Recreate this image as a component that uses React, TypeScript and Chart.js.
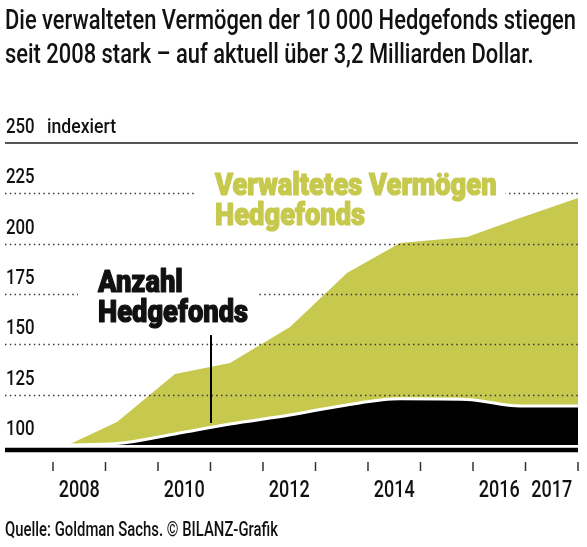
import React, { useEffect, useRef } from "react";
import { Chart, registerables } from "chart.js";

Chart.register(...registerables);

const FONT = "Roboto, 'Liberation Sans', sans-serif";
const GREEN = "#c6c94d";
const INK = "#111111";

const TITLE_LINES = [
  "Die verwalteten Vermögen der 10 000 Hedgefonds stiegen",
  "seit 2008 stark – auf aktuell über 3,2 Milliarden Dollar.",
];
const SOURCE = "Quelle: Goldman Sachs. © BILANZ-Grafik";

// x positions of the data points (year units)
const X_POS = [2007.786, 2008.719, 2009.824, 2010.871, 2012.014, 2013.1, 2014.11, 2015.386, 2016.395, 2017.5];
// Verwaltetes Vermögen Hedgefonds (indexiert)
const AUM = [100, 111.4, 135.3, 140.7, 158.6, 185.4, 200.3, 203.3, 212.8, 222.7];
// Anzahl Hedgefonds (indexiert)
const FUNDS = [100, 100.7, 105.5, 110.4, 114.9, 119.9, 122.9, 122.6, 119.4, 119.4];

const X_MIN = 2006.586;
const X_MAX = 2017.5;
const Y_MIN = 98;
const Y_MAX = 250;
const Y_BASE = 100;

const Y_LABELS = [100, 125, 150, 175, 200, 225, 250];
const Y_DOTTED = [125, 150, 175, 200, 225];
const Y_SOLID = [250];
const Y_UNIT = "indexiert";

const X_TICK_MARKS = [2007.5, 2008.5, 2009.5, 2010.5, 2011.5, 2012.5, 2013.5, 2014.5, 2015.5, 2016.5, 2017.5];
const X_LABEL_POS = [2008, 2010, 2012, 2014, 2016, 2017];
const X_LABELS = ["2008", "2010", "2012", "2014", "2016", "2017"];

const ANNOTATIONS = [
  { lines: ["Verwaltetes Vermögen", "Hedgefonds"], x: 2010.586, y: 224.2, color: GREEN },
  { lines: ["Anzahl", "Hedgefonds"], x: 2008.357, y: 176.0, color: INK },
];
const POINTER = { x: 2010.51, y1: 154.6, y2: 110.9 };

function measure(text: string, font: string): number {
  const c = document.createElement("canvas").getContext("2d")!;
  c.font = font;
  return c.measureText(text).width;
}

function drawScaled(
  ctx: CanvasRenderingContext2D,
  text: string,
  x: number,
  y: number,
  font: string,
  color: string,
  sx: number,
  align: CanvasTextAlign,
  stroke = 0
) {
  ctx.save();
  ctx.font = font;
  ctx.fillStyle = color;
  ctx.textBaseline = "alphabetic";
  ctx.textAlign = align;
  ctx.translate(x, y);
  ctx.scale(sx, 1);
  ctx.fillText(text, 0, 0);
  if (stroke > 0) {
    ctx.strokeStyle = color;
    ctx.lineWidth = stroke;
    ctx.lineJoin = "round";
    ctx.strokeText(text, 0, 0);
  }
  ctx.restore();
}

const overlay = {
  id: "overlay",
  afterDatasetsDraw(chart: any) {
    const { ctx, chartArea: a } = chart;
    const xs = chart.scales.x;
    const ys = chart.scales.y;
    ctx.save();

    // dotted grid lines (drawn above the areas)
    ctx.strokeStyle = "#3a3a3a";
    ctx.lineWidth = 1.5;
    ctx.setLineDash([1.5, 3.3]);
    for (const v of Y_DOTTED) {
      const py = Math.round(ys.getPixelForValue(v)) + 0.5;
      ctx.beginPath();
      ctx.moveTo(a.left, py);
      ctx.lineTo(a.right, py);
      ctx.stroke();
    }
    ctx.setLineDash([]);

    // solid top line
    ctx.strokeStyle = "#555";
    ctx.lineWidth = 2;
    for (const v of Y_SOLID) {
      const py = ys.getPixelForValue(v);
      ctx.beginPath();
      ctx.moveTo(a.left, py);
      ctx.lineTo(a.right, py);
      ctx.stroke();
    }

    // base line
    ctx.strokeStyle = "#000";
    ctx.lineWidth = 4.5;
    ctx.beginPath();
    ctx.moveTo(a.left, a.bottom + 1);
    ctx.lineTo(a.right, a.bottom + 1);
    ctx.stroke();

    // x tick marks
    ctx.strokeStyle = "#333";
    ctx.lineWidth = 1.5;
    for (const v of X_TICK_MARKS) {
      const px = xs.getPixelForValue(v);
      ctx.beginPath();
      ctx.moveTo(px, a.bottom + 13);
      ctx.lineTo(px, a.bottom + 22);
      ctx.stroke();
    }

    // pointer line
    ctx.strokeStyle = "#000";
    ctx.lineWidth = 2;
    const ppx = xs.getPixelForValue(POINTER.x);
    ctx.beginPath();
    ctx.moveTo(ppx, ys.getPixelForValue(POINTER.y1));
    ctx.lineTo(ppx, ys.getPixelForValue(POINTER.y2));
    ctx.stroke();

    // annotations
    const annFont = `900 31px ${FONT}`;
    const annSx = 150 / measure("Hedgefonds", annFont);
    for (const an of ANNOTATIONS) {
      const ax = xs.getPixelForValue(an.x);
      const ay = ys.getPixelForValue(an.y);
      const widths = an.lines.map((l) => measure(l, annFont) * annSx);
      const maxW = Math.max(...widths);
      ctx.fillStyle = "#fff";
      ctx.fillRect(ax - 20, ay - 28, maxW + 29, 34);
      an.lines.forEach((l, i) => {
        drawScaled(ctx, l, ax, ay + i * 30, annFont, an.color, annSx, "left", 1.2);
      });
    }

    // y labels
    const yFont = `500 21px ${FONT}`;
    for (const v of Y_LABELS) {
      const py = ys.getPixelForValue(v);
      drawScaled(ctx, String(v), a.left + 1, py - 10, yFont, INK, 0.8, "left");
      if (v === Y_MAX) {
        drawScaled(ctx, Y_UNIT, a.left + 42, py - 10, yFont, INK, 0.84, "left");
      }
    }

    // x labels
    const xFont = `500 24px ${FONT}`;
    const xSx = 41 / measure("2008", xFont);
    X_LABELS.forEach((lab, i) => {
      const px = xs.getPixelForValue(X_LABEL_POS[i]);
      drawScaled(ctx, lab, px, a.bottom + 48, xFont, INK, xSx, "center");
    });

    ctx.restore();
  },
};

export default function App() {
  const ref = useRef<HTMLCanvasElement>(null);

  useEffect(() => {
    const canvas = ref.current!;
    const chart = new Chart(canvas, {
      type: "line",
      data: {
        datasets: [
          {
            label: "Anzahl Hedgefonds",
            data: X_POS.map((x, i) => ({ x, y: FUNDS[i] })),
            backgroundColor: "#000",
            borderColor: "#fff",
            borderWidth: 3,
            pointRadius: 0,
            cubicInterpolationMode: "monotone",
            fill: { value: Y_BASE },
            order: 0,
          },
          {
            label: "Verwaltetes Vermögen Hedgefonds",
            data: X_POS.map((x, i) => ({ x, y: AUM[i] })),
            backgroundColor: GREEN,
            borderColor: GREEN,
            borderWidth: 0,
            pointRadius: 0,
            tension: 0,
            fill: { value: Y_BASE },
            order: 1,
          },
        ],
      },
      options: {
        animation: false,
        responsive: false,
        devicePixelRatio: window.devicePixelRatio || 1,
        layout: { padding: { left: 5, right: 9, top: 143, bottom: 98 } },
        scales: {
          x: { type: "linear", min: X_MIN, max: X_MAX, display: false },
          y: { type: "linear", min: Y_MIN, max: Y_MAX, display: false },
        },
        plugins: {
          legend: { display: false },
          tooltip: { enabled: false },
        },
      },
      plugins: [overlay],
    } as any);
    return () => chart.destroy();
  }, []);

  const titleFont = `500 28px ${FONT}`;
  const titleSx = 571 / measure(TITLE_LINES[0], titleFont);
  const srcFont = `500 20px ${FONT}`;
  const srcSx = 273 / measure(SOURCE, srcFont);

  return (
    <div
      style={{
        position: "fixed",
        left: 0,
        top: 0,
        width: 587,
        height: 547,
        background: "#fff",
        overflow: "hidden",
      }}
    >
      <canvas
        ref={ref}
        width={587}
        height={547}
        style={{ position: "absolute", left: 0, top: 0, width: 587, height: 547 }}
      />
      <div
        style={{
          position: "absolute",
          left: 5,
          top: 3.4,
          font: titleFont,
          lineHeight: "34px",
          color: INK,
          whiteSpace: "nowrap",
          transform: `scaleX(${titleSx})`,
          transformOrigin: "0 0",
        }}
      >
        <div>{TITLE_LINES[0]}</div>
        <div>{TITLE_LINES[1]}</div>
      </div>
      <div
        style={{
          position: "absolute",
          left: 5,
          top: 516.7,
          font: srcFont,
          lineHeight: "24px",
          color: INK,
          whiteSpace: "nowrap",
          transform: `scaleX(${srcSx})`,
          transformOrigin: "0 0",
        }}
      >
        {SOURCE}
      </div>
    </div>
  );
}
